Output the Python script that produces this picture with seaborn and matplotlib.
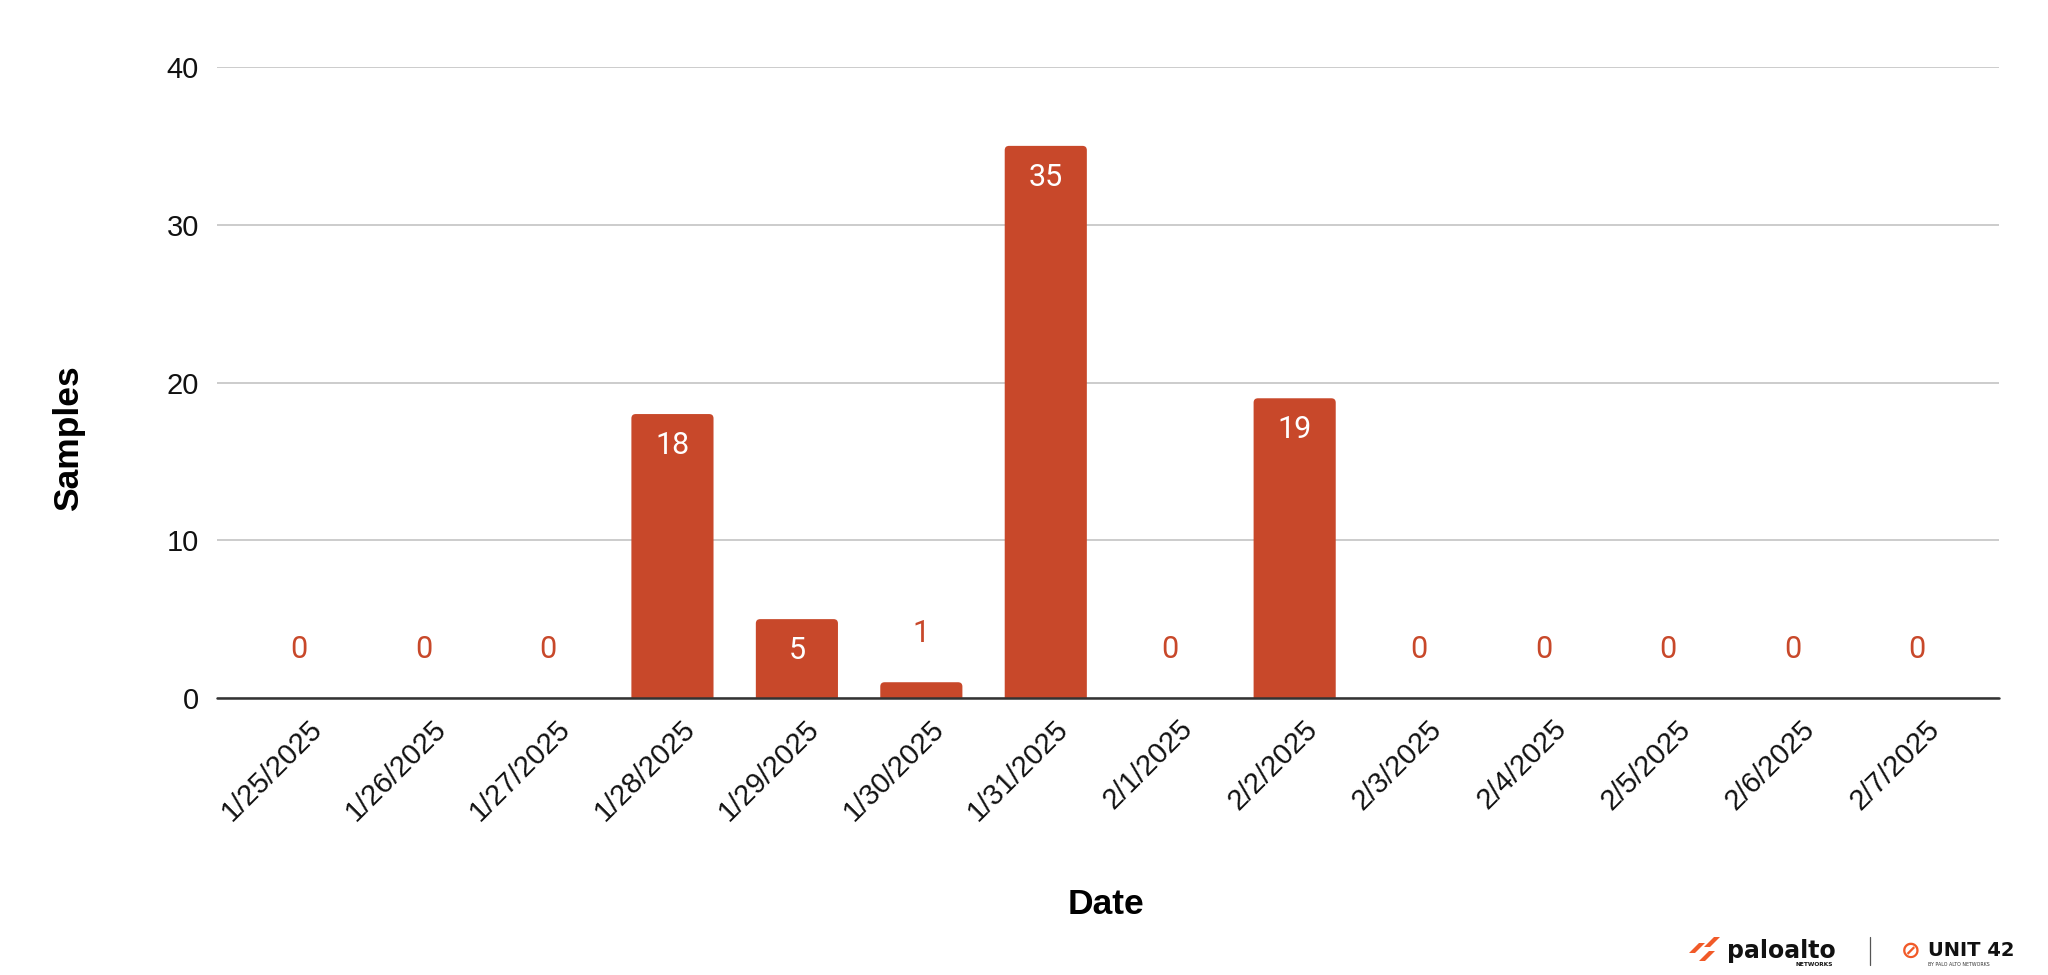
import matplotlib
matplotlib.use('Agg')
import matplotlib.pyplot as plt
import matplotlib.transforms as mtransforms
from matplotlib.patches import FancyBboxPatch, Polygon
import seaborn as sns
import pandas as pd

# Datos
fechas = ['1/25/2025', '1/26/2025', '1/27/2025', '1/28/2025', '1/29/2025', '1/30/2025', '1/31/2025',
          '2/1/2025', '2/2/2025', '2/3/2025', '2/4/2025', '2/5/2025', '2/6/2025', '2/7/2025']
muestras = [0, 0, 0, 18, 5, 1, 35, 0, 19, 0, 0, 0, 0, 0]
ticks_y = [0, 10, 20, 30, 40]

df = pd.DataFrame({'Date': fechas, 'Samples': muestras})

sns.set_theme(style='white')
plt.rcParams['font.family'] = ['Liberation Sans', 'DejaVu Sans']

color_barra = '#C8482A'
W, H = 2048, 975

fig = plt.figure(figsize=(20.48, 9.75), dpi=100)
ax = fig.add_axes([217 / W, 1 - 698 / H, 1782 / W, 631 / H])

sns.barplot(data=df, x='Date', y='Samples', color=color_barra, width=0.66,
            saturation=1, ax=ax, zorder=3)

ax.set_ylim(0, 40)
ax.set_xlim(-0.66, len(fechas) - 0.34)

# esquinas redondeadas arriba (la parte de abajo queda recortada por el eje)
aspecto = (40 / 631) / (14.32 / 1782)
for p in list(ax.patches):
    x0, w, h = p.get_x(), p.get_width(), p.get_height()
    p.remove()
    if h <= 0:
        continue
    ax.add_patch(FancyBboxPatch((x0, -1), w, h + 1, boxstyle='round,pad=0,rounding_size=0.035',
                                mutation_aspect=aspecto, facecolor=color_barra,
                                edgecolor='none', linewidth=0, zorder=3))

ax.set_yticks(ticks_y)
ax.yaxis.grid(True, color='#cccccc', linewidth=1.4, zorder=0)
ax.axhline(0, color='#333333', linewidth=1.8, zorder=4, clip_on=False)
for s in ax.spines.values():
    s.set_visible(False)

ax.tick_params(axis='y', labelsize=21, colors='#111111', length=0, pad=13)
ax.tick_params(axis='x', labelsize=21, colors='#111111', length=0, pad=12)
desplazamiento = mtransforms.ScaledTranslation(6 / 72, 0, fig.dpi_scale_trans)
for lab in ax.get_xticklabels():
    lab.set_rotation(45)
    lab.set_ha('right')
    lab.set_va('top')
    lab.set_rotation_mode('anchor')
    lab.set_transform(lab.get_transform() + desplazamiento)

ax.set_xlabel('Date', fontsize=25.5, fontweight='bold', color='#000000', va='center')
ax.set_ylabel('Samples', fontsize=25.5, fontweight='bold', color='#000000', va='center')
ax.xaxis.set_label_coords(0.499, -0.328)
ax.yaxis.set_label_coords(-0.0836, 0.412)

# etiquetas de valor
for i, v in enumerate(muestras):
    if v >= 5:
        ax.text(i, v - 2.0, str(v), ha='center', va='center', color='white',
                fontsize=22, family=['Roboto', 'DejaVu Sans'], zorder=5)
    else:
        ax.text(i, v + 3.1, str(v), ha='center', va='center', color=color_barra,
                fontsize=22, family=['Roboto', 'DejaVu Sans'], zorder=5)

# logos
naranja = '#F15A29'
def fx(px):
    return px / W
def fy(py):
    return 1 - py / H

# icono palo alto: tres franjas inclinadas
franjas = [(1689, 948, 10), (1699, 956, 10), (1704, 942, 10)]
for x, yb, alto in franjas:
    fig.add_artist(Polygon([(fx(x), fy(yb + alto / 2)), (fx(x + 6), fy(yb + alto / 2)),
                            (fx(x + 6 + alto), fy(yb - alto / 2)), (fx(x + alto), fy(yb - alto / 2))],
                           closed=True, facecolor=naranja, edgecolor='none',
                           transform=fig.transFigure))
fig.text(fx(1727), fy(951), 'paloalto', fontsize=17, fontweight='bold', color='#111111',
         ha='left', va='center', family=['DejaVu Sans'])
fig.text(fx(1795), fy(964), 'NETWORKS', fontsize=4.2, fontweight='bold', color='#111111',
         ha='left', va='center', family=['DejaVu Sans'])
fig.add_artist(plt.Line2D([fx(1870), fx(1870)], [fy(937), fy(965)], color='#555555', linewidth=0.9))
fig.text(fx(1911), fy(951), '⊘', fontsize=17, fontweight='bold', color=naranja, ha='center', va='center',
         family=['DejaVu Sans'])
fig.text(fx(1928), fy(951), 'UNIT 42', fontsize=14, fontweight='bold', color='#111111', ha='left',
         va='center', family=['DejaVu Sans'])
fig.text(fx(1928), fy(964), 'BY PALO ALTO NETWORKS', fontsize=3.4, color='#333333', ha='left',
         va='center', family=['DejaVu Sans'])

fig.savefig('out.png', dpi=100)
